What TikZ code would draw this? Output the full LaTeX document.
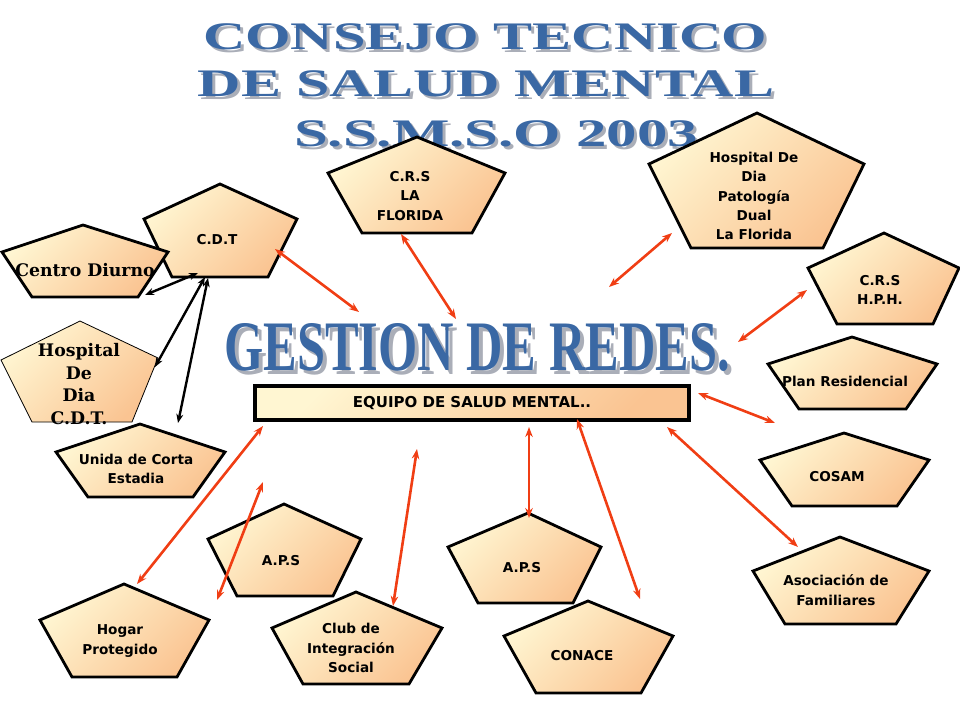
\documentclass[tikz,border=0pt]{standalone}
\usepackage{fontspec}
\usepackage{graphicx}
\usetikzlibrary{arrows.meta}
\setmainfont{DejaVu Sans}
\newfontfamily\serlabel{DejaVu Serif}
\newfontfamily\titlefont{Liberation Serif}
\definecolor{pentlight}{RGB}{255,246,210}
\definecolor{pentdark}{RGB}{250,196,146}
\definecolor{linkred}{RGB}{240,62,20}
\definecolor{titleblue}{RGB}{58,104,164}
\definecolor{titleshade}{RGB}{170,174,184}
\tikzset{
  pent/.style={draw=black,line width=2.8pt,top color=pentlight,bottom color=pentdark,shading angle=45},
  lbl/.style={font=\bfseries\fontsize{13.6}{19.3}\selectfont,align=center,inner sep=0pt},
  serlbl/.style={font=\serlabel\bfseries\fontsize{17.3}{22.4}\selectfont,align=center,inner sep=0pt},
  titletext/.style={anchor=base,inner sep=0pt,text=titleblue,font=\titlefont\bfseries\fontsize{39}{39}\selectfont},
  titleshadow/.style={titletext,text=titleshade},
  redlink/.style={linkred,line width=2.6pt,{Stealth[length=10pt,width=7.5pt]}-{Stealth[length=10pt,width=7.5pt]}},
  blacklink/.style={black,line width=2.4pt,{Stealth[length=9pt,width=7pt]}-{Stealth[length=9pt,width=7pt]}}
}
\begin{document}
\begin{tikzpicture}[x=1pt,y=-1pt]
\useasboundingbox (0,0) rectangle (960,720);
%\draw[step=40,gray,very thin] (0,0) grid (960,720); %background grid

% title
\node[titleshadow] at (488,52) {\scalebox{1.50}[1]{CONSEJO TECNICO}};
\node[titletext] (title1) at (485,49) {\scalebox{1.50}[1]{CONSEJO TECNICO}};
\node[titleshadow] at (489,99) {\scalebox{1.54}[1]{DE SALUD MENTAL}};
\node[titletext] (title2) at (486,96) {\scalebox{1.54}[1]{DE SALUD MENTAL}};
\node[titleshadow] at (499,149) {\scalebox{1.56}[1]{S.S.M.S.O 2003}};
\node[titletext] (title3) at (496,146) {\scalebox{1.56}[1]{S.S.M.S.O 2003}};

\node[titleshadow,font=\titlefont\bfseries\fontsize{71}{71}\selectfont] at (481,374) {\scalebox{0.71}[1]{GESTION DE REDES.}};
\node[titletext,font=\titlefont\bfseries\fontsize{71}{71}\selectfont] (gestion) at (477,370) {\scalebox{0.71}[1]{GESTION DE REDES.}};

% equipo
\node[pent,line width=3.4pt,minimum width=434,minimum height=34,inner sep=0pt,
      font=\bfseries\fontsize{15}{15}\selectfont] (equipo) at (472,403) {EQUIPO DE SALUD MENTAL..};

% left group
\draw[pent] (220,184) -- (144,219) -- (172,277) -- (268,277) -- (297,219) -- cycle;
\node[lbl] (cdt) at (217,240) {C.D.T};
\draw[pent] (83,225) -- (2,252) -- (32,297) -- (138,297) -- (168,252) -- cycle;
\node[serlbl] (centro) at (85,270) {Centro Diurno};
\draw[pent,line width=0.8pt] (80,321) -- (1,360) -- (32,422) -- (132,422) -- (158,358) -- cycle;
\node[serlbl] (hdcdt) at (79,384) {Hospital\\De\\Dia\\C.D.T.};
\draw[pent] (140,424) -- (56,452) -- (88,497) -- (193,497) -- (225,452) -- cycle;
\node[lbl] (unida) at (136,469) {Unida de Corta\\Estadia};

% top
\draw[pent] (417,137) -- (328,173) -- (362,233) -- (472,233) -- (505,173) -- cycle;
\node[lbl] (crsflo) at (410,196) {C.R.S\\LA\\FLORIDA};
\draw[pent] (757,113) -- (649,164) -- (691,248) -- (823,248) -- (864,164) -- cycle;
\node[lbl] (hdd) at (754,196) {Hospital De\\Dia\\Patología\\Dual\\La Florida};

% right
\draw[pent] (884,233) -- (808,268) -- (837,324) -- (933,324) -- (959,268) -- cycle;
\node[lbl] (crshph) at (880,290) {C.R.S\\H.P.H.};
\draw[pent] (852,337) -- (768,364) -- (799,409) -- (906,409) -- (937,364) -- cycle;
\node[lbl] (plan) at (845,381) {Plan Residencial};
\draw[pent] (844,433) -- (760,460) -- (792,506) -- (897,506) -- (929,460) -- cycle;
\node[lbl] (cosam) at (837,477) {COSAM};
\draw[pent] (840,537) -- (753,571) -- (785,624) -- (896,624) -- (929,571) -- cycle;
\node[lbl] (asoc) at (836,590) {Asociación de\\Familiares};

% bottom
\draw[pent] (528,513) -- (448,547) -- (478,603) -- (573,603) -- (601,547) -- cycle;
\node[lbl] (apsb) at (522,568) {A.P.S};
\draw[pent] (588,601) -- (504,636) -- (536,693) -- (641,693) -- (673,636) -- cycle;
\node[lbl] (conace) at (582,656) {CONACE};
\draw[pent] (284,504) -- (208,539) -- (237,596) -- (333,596) -- (361,539) -- cycle;
\node[lbl] (apsa) at (281,561) {A.P.S};
\draw[pent] (356,592) -- (272,628) -- (303,684) -- (409,684) -- (442,628) -- cycle;
\node[lbl] (club) at (351,648) {Club de\\Integración\\Social};
\draw[pent] (124,584) -- (40,620) -- (72,677) -- (177,677) -- (209,620) -- cycle;
\node[lbl] (hogar) at (120,641) {Hogar\\Protegido};

% arrow ends
\coordinate (cdtE) at (275,249);   \coordinate (gesA) at (359,312);
\coordinate (floE) at (401,234);   \coordinate (gesB) at (456,319);
\coordinate (hddE) at (672,233);   \coordinate (gesC) at (609,287);
\coordinate (hphE) at (807,290);   \coordinate (gesD) at (738,342);
\coordinate (cosE) at (775,423);   \coordinate (eqA) at (698,393);
\coordinate (asoE) at (798,547);   \coordinate (eqB) at (667,427);
\coordinate (conE) at (640,599);   \coordinate (eqC) at (577,419);
\coordinate (apsbE) at (529,518);  \coordinate (eqD) at (529,427);
\coordinate (clubE) at (393,606);  \coordinate (eqE) at (417,449);
\coordinate (apsaE) at (217,600);  \coordinate (eqF) at (263,482);
\coordinate (hogE) at (137,584);   \coordinate (eqG) at (263,426);
\coordinate (cdtA) at (198,273);   \coordinate (cenE) at (145,295);
\coordinate (cdtB) at (205,277);   \coordinate (hdcE) at (155,367);
\coordinate (cdtC) at (208,278);   \coordinate (uniE) at (178,423);

% links
\draw[redlink] (cdtE) -- (gesA);
\draw[redlink] (floE) -- (gesB);
\draw[redlink] (hddE) -- (gesC);
\draw[redlink] (hphE) -- (gesD);
\draw[redlink] (eqA) -- (cosE);
\draw[redlink] (eqB) -- (asoE);
\draw[redlink] (eqC) -- (conE);
\draw[redlink] (eqD) -- (apsbE);
\draw[redlink] (eqE) -- (clubE);
\draw[redlink] (eqF) -- (apsaE);
\draw[redlink] (eqG) -- (hogE);
\draw[blacklink] (cdtA) -- (cenE);
\draw[blacklink] (cdtB) -- (hdcE);
\draw[blacklink] (cdtC) -- (uniE);
\end{tikzpicture}
\end{document}
